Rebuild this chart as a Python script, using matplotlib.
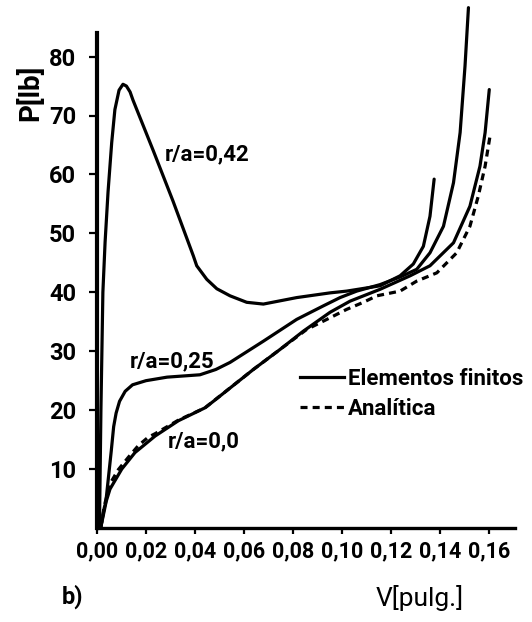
import matplotlib
matplotlib.use("Agg")
import matplotlib.pyplot as plt
from matplotlib.lines import Line2D
from matplotlib.ticker import FuncFormatter

# ---- data ----
x42 = [0.001, 0.0016, 0.0024, 0.0033, 0.0045, 0.006, 0.0073, 0.009, 0.0106, 0.012,
       0.0135, 0.0147, 0.023, 0.031, 0.0393, 0.0407, 0.0448, 0.0489, 0.0543, 0.0611,
       0.0679, 0.0815, 0.0951, 0.1019, 0.1155, 0.1237, 0.1291, 0.1332, 0.1359, 0.1376]
p42 = [0, 20, 40, 48.5, 57, 65.4, 71, 74.3, 75.3, 75.0,
       74.0, 72.6, 64, 55.5, 46.2, 44.5, 42.2, 40.6, 39.4, 38.3,
       38.0, 39.1, 39.9, 40.2, 41.1, 42.8, 44.8, 47.8, 52.9, 59.2]

x25 = [0.0015, 0.0035, 0.0046, 0.0058, 0.0068, 0.0078, 0.0092, 0.0115, 0.0145, 0.02,
       0.0286, 0.042, 0.0485, 0.0543, 0.0679, 0.0815, 0.0924, 0.0992, 0.106, 0.1155,
       0.1237, 0.1305, 0.1359, 0.1414, 0.1455, 0.1482, 0.1502, 0.1516]
p25 = [0, 4, 8.3, 13, 17.2, 19.5, 21.5, 23.2, 24.3, 25.0,
       25.6, 26.0, 26.9, 28.1, 31.7, 35.4, 37.7, 39.1, 40.2, 41.3,
       42.6, 43.9, 46.7, 51.2, 58.6, 67.1, 78.4, 88.3]

x00 = [0.0015, 0.003, 0.0053, 0.0101, 0.0155, 0.0237, 0.0332, 0.0441, 0.0475, 0.0638,
       0.0747, 0.0842, 0.0951, 0.1033, 0.1155, 0.1278, 0.1359, 0.1455, 0.1522, 0.1563,
       0.1584, 0.1601]
p00 = [0, 3.5, 6.6, 10, 12.8, 15.6, 18.2, 20.4, 21.5, 26.9,
       30.3, 33.4, 36.6, 38.5, 40.5, 42.8, 44.5, 48.4, 54.6, 61.4,
       67.1, 74.4]

xan = [0.0015, 0.003, 0.0045, 0.006, 0.0087, 0.0128, 0.0169, 0.0209, 0.0237, 0.0332,
       0.0441, 0.0638, 0.0747, 0.0856, 0.0938, 0.1019, 0.1087, 0.1142, 0.1237, 0.1305,
       0.1387, 0.1468, 0.1522, 0.1556, 0.1584, 0.1604]
pan = [0, 3.8, 6.2, 8.0, 9.9, 12.0, 14.0, 15.4, 16.0, 18.3,
       20.4, 26.9, 30.3, 33.7, 35.4, 37.1, 38.3, 39.4, 40.2, 41.9,
       43.3, 46.7, 51.2, 56.3, 61.4, 66.5]

xticks = [0.00, 0.02, 0.04, 0.06, 0.08, 0.10, 0.12, 0.14, 0.16]
yticks = [10, 20, 30, 40, 50, 60, 70, 80]

curve_labels = ["r/a=0,42", "r/a=0,25", "r/a=0,0"]
legend_labels = ["Elementos finitos", "Analítica"]

FONT = ["Roboto", "DejaVu Sans"]
plt.rcParams["font.family"] = FONT
plt.rcParams["font.weight"] = "bold"

fig = plt.figure(figsize=(5.32, 6.22), dpi=100)
ax = fig.add_axes([97 / 532, 1 - 528 / 622, (515 - 97) / 532, (528 - 33) / 622])

lw = 2.3
for xs, ps in [(x42, p42), (x25, p25), (x00, p00)]:
    ax.plot(xs, ps, color="black", lw=lw, solid_capstyle="round",
            solid_joinstyle="round", clip_on=False)
ax.plot(xan, pan, color="black", lw=lw, ls=(0, (2.2, 1.6)), clip_on=False)

ax.set_xlim(0, 0.1706)
ax.set_ylim(0, 84)

for s in ["top", "right"]:
    ax.spines[s].set_visible(False)
ax.spines["left"].set_linewidth(3.0)
ax.spines["bottom"].set_linewidth(2.4)

ax.set_xticks(xticks)
ax.set_yticks(yticks)
ax.xaxis.set_major_formatter(FuncFormatter(lambda v, p: f"{v:.2f}".replace(".", ",")))
ax.yaxis.set_major_formatter(FuncFormatter(lambda v, p: f"{int(round(v))}"))
ax.tick_params(axis="y", direction="out", length=6, width=1.6, labelsize=17, pad=9)
ax.tick_params(axis="x", direction="out", length=4, width=1.6, labelsize=15.5, pad=5)

ax.set_ylabel("P[lb]", fontsize=20, fontweight="bold", va="center")
ax.yaxis.set_label_coords(-0.160, 0.879)
ax.set_xlabel("V[pulg.]", fontsize=19, fontweight="normal", va="center")
ax.xaxis.set_label_coords(0.773, -0.141)

fig.text(62 / 532, 1 - 597 / 622, "b)", fontsize=17, fontweight="bold", va="center", ha="left")

ax.text(0.0278, 63.4, curve_labels[0], fontsize=16, fontweight="bold", va="center", ha="left")
ax.text(0.0135, 28.3, curve_labels[1], fontsize=16, fontweight="bold", va="center", ha="left")
ax.text(0.0290, 14.7, curve_labels[2], fontsize=16, fontweight="bold", va="center", ha="left")

handles = [Line2D([], [], color="black", lw=lw),
           Line2D([], [], color="black", lw=lw, ls=(0, (2.2, 1.6)))]
ax.legend(handles, legend_labels, loc="upper left",
          bbox_to_anchor=(300 / 532, 1 - 368 / 622), bbox_transform=fig.transFigure,
          frameon=False, handlelength=2.0, handletextpad=0.15,
          labelspacing=0.35, borderpad=0, borderaxespad=0,
          prop={"family": FONT, "weight": "bold", "size": 16})

fig.savefig("out.png", dpi=100)
